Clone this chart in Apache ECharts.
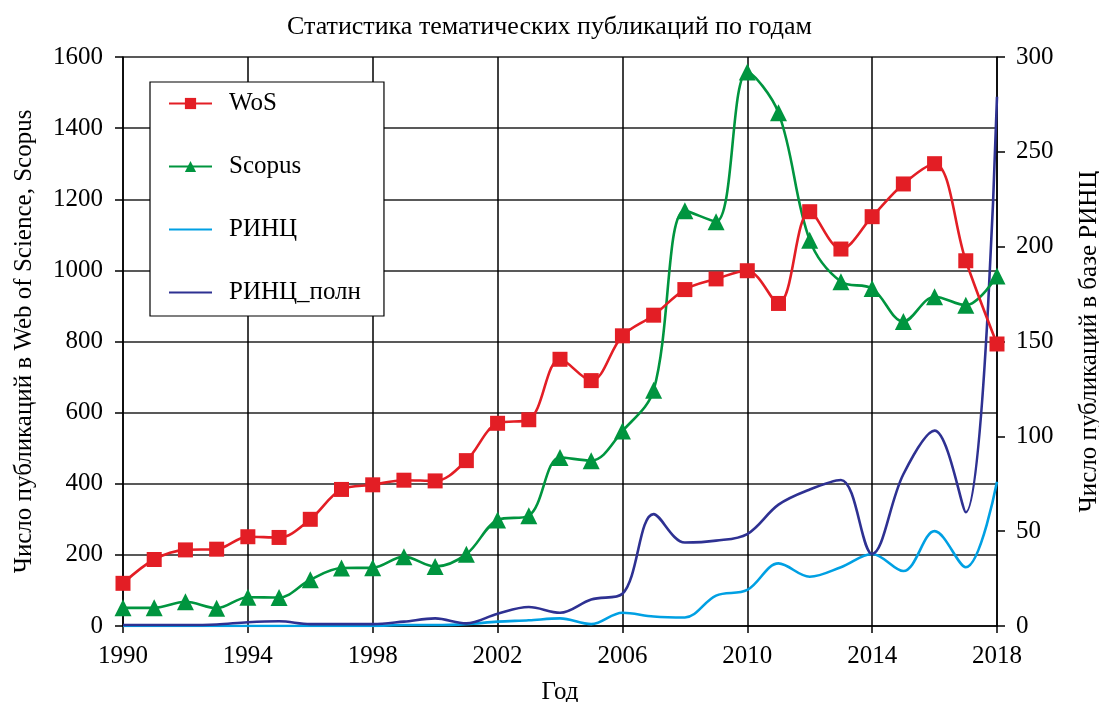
<!DOCTYPE html>
<html>
<head>
<meta charset="utf-8">
<script src="https://cdn.jsdelivr.net/npm/echarts@6/dist/echarts.min.js"></script>
<style>
  html, body { margin: 0; padding: 0; background: #fff; }
  #chart { width: 1099px; height: 702px; }
</style>
</head>
<body>
<div id="chart"></div>
<script>
const years = [1990, 1991, 1992, 1993, 1994, 1995, 1996, 1997, 1998, 1999,
  2000, 2001, 2002, 2003, 2004, 2005, 2006, 2007, 2008, 2009,
  2010, 2011, 2012, 2013, 2014, 2015, 2016, 2017, 2018]

const wos = [120, 187, 214, 216, 251, 249, 300, 384, 397, 410,
  408, 465, 570, 580, 750, 690, 816, 874, 946, 976,
  999, 907, 1165, 1060, 1151, 1243, 1300, 1027, 793]

const scopus = [51, 51, 68, 50, 81, 80, 130, 163, 164, 195,
  167, 202, 298, 310, 474, 465, 548, 663, 1168, 1137,
  1558, 1443, 1085, 968, 949, 856, 926, 902, 984]

const rinc = [0, 0, 0, 0, 0, 0, 0, 0, 0, 0.5,
  0.5, 1, 2.3, 3, 4, 1, 7, 5, 4.5, 16,
  19, 33, 26, 31, 38, 29, 50, 31, 76]

const rincFull = [0.5, 0.5, 0.5, 0.8, 2, 2.5, 1, 1, 1, 2.3,
  4, 1.4, 6.5, 10, 7, 14, 17, 59, 44, 45,
  48.5, 64, 72, 77, 38, 80, 103, 60, 279]

const pairs = (vals) => years.map((y, i) => [y, vals[i]])

const FONT = '"Liberation Serif", "DejaVu Serif", serif'
const C_WOS = '#e31e25'
const C_SCOPUS = '#00953f'
const C_RINC = '#00a0e3'
const C_FULL = '#2e3192'
const SMOOTH = 0.35

const chart = echarts.init(document.getElementById('chart'))

const axisText = { color: '#000', fontFamily: FONT, fontSize: 25 }
const blackLine = { color: '#000', width: 1.5 }

chart.setOption({
  backgroundColor: '#fff',
  animation: false,
  title: {
    text: 'Статистика тематических публикаций по годам',
    left: 'center',
    top: 9,
    textStyle: { color: '#000', fontFamily: FONT, fontSize: 26, fontWeight: 'normal' }
  },
  legend: {
    orient: 'vertical',
    left: 150,
    top: 82,
    padding: [9, 23, 11, 18],
    itemWidth: 43,
    itemHeight: 14,
    itemGap: 38,
    backgroundColor: '#fff',
    borderColor: '#000',
    borderWidth: 1.2,
    borderRadius: 0,
    textStyle: { color: '#000', fontFamily: FONT, fontSize: 25, lineHeight: 25, padding: [0, 0, 0, 12] },
    data: [
      { name: 'WoS' },
      { name: 'Scopus' },
      { name: 'РИНЦ', itemStyle: { opacity: 0 } },
      { name: 'РИНЦ_полн', itemStyle: { opacity: 0 } }
    ]
  },
  grid: { left: 123, right: 102, top: 57, bottom: 76, outerBoundsMode: 'none', containLabel: false },
  xAxis: {
    type: 'value',
    min: 1990,
    max: 2018,
    interval: 4,
    name: 'Год',
    nameLocation: 'middle',
    nameGap: 54,
    nameTextStyle: axisText,
    axisLine: { lineStyle: blackLine },
    axisTick: { show: true, length: 7, lineStyle: blackLine },
    axisLabel: Object.assign({ margin: 18, formatter: (v) => String(v) }, axisText),
    splitLine: { show: true, lineStyle: blackLine }
  },
  yAxis: [
    {
      type: 'value',
      min: 0,
      max: 1600,
      interval: 200,
      name: 'Число публикаций в Web of Science, Scopus',
      nameLocation: 'middle',
      nameGap: 86,
      nameTextStyle: axisText,
      axisLine: { show: true, lineStyle: blackLine },
      axisTick: { show: true, length: 8, lineStyle: blackLine },
      axisLabel: Object.assign({ margin: 20, formatter: (v) => String(v) }, axisText),
      splitLine: { show: true, lineStyle: { color: '#222', width: 1.5 } }
    },
    {
      type: 'value',
      min: 0,
      max: 300,
      interval: 50,
      position: 'right',
      name: 'Число публикаций в базе РИНЦ',
      nameLocation: 'middle',
      nameGap: 80,
      nameRotate: 90,
      nameTextStyle: axisText,
      axisLine: { show: true, lineStyle: blackLine },
      axisTick: { show: true, length: 8, lineStyle: blackLine },
      axisLabel: Object.assign({ margin: 19 }, axisText),
      splitLine: { show: false }
    }
  ],
  series: [
    {
      name: 'РИНЦ',
      type: 'line',
      yAxisIndex: 1,
      smooth: SMOOTH,
      showSymbol: false,
      symbol: 'none',
      lineStyle: { color: C_RINC, width: 2.6 },
      itemStyle: { color: C_RINC },
      data: pairs(rinc)
    },
    {
      name: 'РИНЦ_полн',
      type: 'line',
      yAxisIndex: 1,
      smooth: SMOOTH,
      showSymbol: false,
      symbol: 'none',
      lineStyle: { color: C_FULL, width: 2.6 },
      itemStyle: { color: C_FULL },
      data: pairs(rincFull)
    },
    {
      name: 'Scopus',
      type: 'line',
      smooth: SMOOTH,
      symbol: 'triangle',
      symbolSize: 17,
      lineStyle: { color: C_SCOPUS, width: 2.6 },
      itemStyle: { color: C_SCOPUS },
      data: pairs(scopus)
    },
    {
      name: 'WoS',
      type: 'line',
      smooth: SMOOTH,
      symbol: 'rect',
      symbolSize: 15,
      lineStyle: { color: C_WOS, width: 2.6 },
      itemStyle: { color: C_WOS },
      data: pairs(wos)
    }
  ]
})
</script>
</body>
</html>
